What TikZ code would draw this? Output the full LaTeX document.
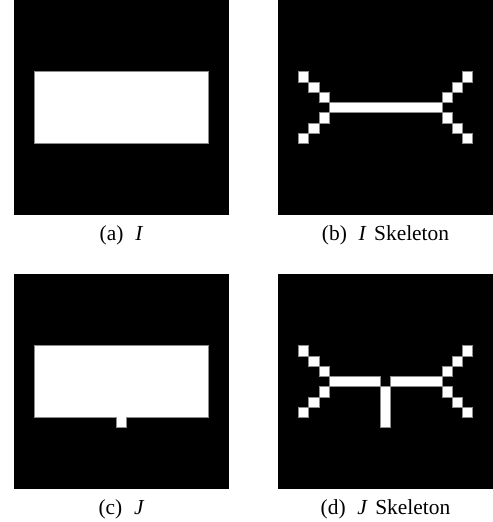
\documentclass[tikz,border=0pt]{standalone}
\usepackage{fontspec}
\setmainfont{Liberation Serif}
\def\cs{10.24}% size of one image pixel

\begin{document}
\begin{tikzpicture}[x=1bp,y=-1bp,
    canvas/.style={fill=black},
    fg/.style={fill=white,draw=black!45,line width=0.5bp},
    caption/.style={font=\fontsize{21.5}{25}\selectfont,inner sep=0pt}]
    \useasboundingbox (0,0) rectangle (493,522);
    % (a) original image I
    \begin{scope}[shift={(14,0)}]
        \fill[canvas] (0,0) rectangle (21*\cs,21*\cs);
        \filldraw[fg] (2*\cs,7*\cs) rectangle (19*\cs,14*\cs);
    \end{scope}
    % (b) skeleton of I
    \begin{scope}[shift={(278,0)}]
        \fill[canvas] (0,0) rectangle (21*\cs,21*\cs);
        \foreach \c/\r in {2/7,3/8,4/9,4/11,3/12,2/13,18/7,17/8,16/9,16/11,17/12,18/13}{
            \filldraw[fg] (\c*\cs,\r*\cs) rectangle ++(\cs,\cs);}
        \filldraw[fg] (5*\cs,10*\cs) rectangle (16*\cs,11*\cs);
    \end{scope}
    % (c) image J with one extra pixel
    \begin{scope}[shift={(14,274)}]
        \fill[canvas] (0,0) rectangle (21*\cs,21*\cs);
        \filldraw[fg] (2*\cs,7*\cs) -- (19*\cs,7*\cs) -- (19*\cs,14*\cs) -- (11*\cs,14*\cs)
            -- (11*\cs,15*\cs) -- (10*\cs,15*\cs) -- (10*\cs,14*\cs) -- (2*\cs,14*\cs) -- cycle;
    \end{scope}
    % (d) skeleton of J
    \begin{scope}[shift={(278,274)}]
        \fill[canvas] (0,0) rectangle (21*\cs,21*\cs);
        \foreach \c/\r in {2/7,3/8,4/9,4/11,3/12,2/13,18/7,17/8,16/9,16/11,17/12,18/13}{
            \filldraw[fg] (\c*\cs,\r*\cs) rectangle ++(\cs,\cs);}
        \filldraw[fg] (5*\cs,10*\cs) rectangle (10*\cs,11*\cs);
        \filldraw[fg] (11*\cs,10*\cs) rectangle (16*\cs,11*\cs);
        \filldraw[fg] (10*\cs,11*\cs) rectangle (11*\cs,15*\cs);
    \end{scope}
    \node[caption] (capa) at (121.5,235) {(a)\hspace{0.55em}\textit{I}};
    \node[caption] (capb) at (385.5,235) {(b)\hspace{0.55em}\textit{I}\hspace{0.35em}Skeleton};
    \node[caption] (capc) at (121.5,509.5) {(c)\hspace{0.55em}\textit{J}};
    \node[caption] (capd) at (385.5,509.5) {(d)\hspace{0.55em}\textit{J}\hspace{0.35em}Skeleton};
\end{tikzpicture}
\end{document}
